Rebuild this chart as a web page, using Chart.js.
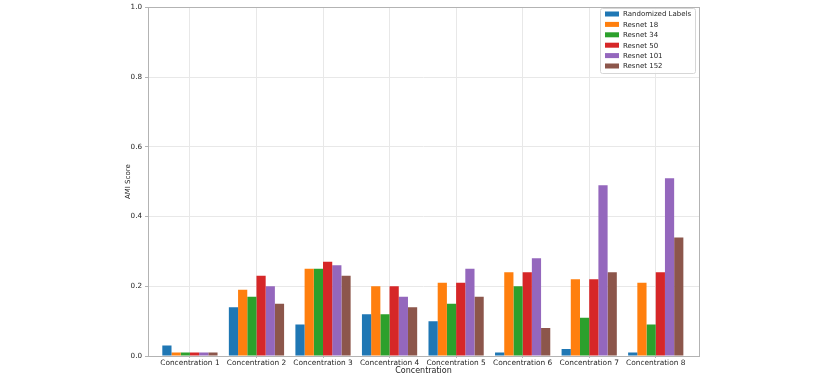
<!DOCTYPE html>
<html>
<head>
<meta charset="utf-8">
<script src="https://cdn.jsdelivr.net/npm/chart.js@4/dist/chart.umd.min.js"></script>
<style>
  html, body { margin: 0; padding: 0; background: #fff; }
  #wrap { width: 829px; height: 377px; }
</style>
</head>
<body>
<div id="wrap"><canvas id="amiChart" width="829" height="377"></canvas></div>
<script>
const categories = ["Concentration 1", "Concentration 2", "Concentration 3", "Concentration 4",
  "Concentration 5", "Concentration 6", "Concentration 7", "Concentration 8"];

const randomizedLabels = [0.03, 0.14, 0.09, 0.12, 0.10, 0.01, 0.02, 0.01];
const resnet18 = [0.01, 0.19, 0.25, 0.20, 0.21, 0.24, 0.22, 0.21];
const resnet34 = [0.01, 0.17, 0.25, 0.12, 0.15, 0.20, 0.11, 0.09];
const resnet50 = [0.01, 0.23, 0.27, 0.20, 0.21, 0.24, 0.22, 0.24];
const resnet101 = [0.01, 0.20, 0.26, 0.17, 0.25, 0.28, 0.49, 0.51];
const resnet152 = [0.01, 0.15, 0.23, 0.14, 0.17, 0.08, 0.24, 0.34];

const seriesNames = ["Randomized Labels", "Resnet 18", "Resnet 34", "Resnet 50", "Resnet 101", "Resnet 152"];
const seriesValues = [randomizedLabels, resnet18, resnet34, resnet50, resnet101, resnet152];
const seriesColors = ["#1f77b4", "#ff7f0e", "#2ca02c", "#d62728", "#9467bd", "#8c564b"];

const yTicks = [0, 0.2, 0.4, 0.6, 0.8, 1.0];

const font = "'DejaVu Sans', sans-serif";
const textColor = "#262626";

// legend drawn inside the plot, upper right, like matplotlib
const insideLegend = {
  id: "insideLegend",
  afterDraw(chart) {
    const ctx = chart.ctx;
    const x = 600, y = 8, w = 95, h = 65;
    ctx.save();
    ctx.fillStyle = "rgba(255,255,255,0.85)";
    ctx.strokeStyle = "#d6d6d6";
    ctx.lineWidth = 1;
    ctx.beginPath();
    ctx.roundRect(x + 0.5, y + 0.5, w, h, 2);
    ctx.fill();
    ctx.stroke();
    ctx.font = "7px " + font;
    ctx.textBaseline = "middle";
    ctx.textAlign = "left";
    chart.data.datasets.forEach((ds, i) => {
      const rowY = y + 6 + i * 10.4;
      ctx.fillStyle = ds.backgroundColor;
      ctx.fillRect(605, rowY - 2.5, 14, 5);
      ctx.fillStyle = textColor;
      ctx.fillText(ds.label, 623, rowY + 0.5);
    });
    ctx.restore();
  },
};

// axes frame on all four sides
const frame = {
  id: "frame",
  afterDatasetsDraw(chart) {
    const { ctx, chartArea: a } = chart;
    ctx.save();
    ctx.strokeStyle = "#b3b3b3";
    ctx.lineWidth = 1;
    ctx.strokeRect(Math.round(a.left) + 0.5, Math.round(a.top) + 0.5,
      Math.round(a.right - a.left), Math.round(a.bottom - a.top));
    ctx.restore();
  },
};

new Chart(document.getElementById("amiChart"), {
  type: "bar",
  data: {
    datasets: seriesNames.map((name, s) => ({
      label: name,
      data: seriesValues[s].map((v, i) => ({ x: i, y: v })),
      backgroundColor: seriesColors[s],
      borderWidth: 0,
      categoryPercentage: 0.83,
      barPercentage: 1.0,
    })),
  },
  options: {
    responsive: false,
    animation: false,
    layout: { padding: { left: 118, right: 130, top: 5, bottom: 0 } },
    plugins: {
      legend: { display: false },
      tooltip: { enabled: false },
    },
    scales: {
      x: {
        type: "linear",
        min: -0.63,
        max: 7.65,
        offset: false,
        afterBuildTicks: (axis) => {
          axis.ticks = categories.map((c, i) => ({ value: i }));
        },
        afterFit: (axis) => { axis.height = 21; },
        grid: { offset: false, color: "#e8e8e8", tickColor: "#b3b3b3", tickLength: 2 },
        border: { display: false },
        ticks: {
          padding: 1,
          maxRotation: 0,
          autoSkip: false,
          color: textColor,
          font: { family: font, size: 7.4 },
          callback: (v) => categories[v],
        },
        title: {
          display: true,
          text: "Concentration",
          color: textColor,
          font: { family: font, size: 8 },
          padding: { top: 0, bottom: 1 },
        },
      },
      y: {
        min: 0,
        max: 1,
        afterBuildTicks: (axis) => {
          axis.ticks = yTicks.map((v) => ({ value: v }));
        },
        afterFit: (axis) => { axis.width = 30; },
        grid: { color: "#e8e8e8", tickColor: "#b3b3b3", tickLength: 3 },
        border: { display: false },
        ticks: {
          padding: 3,
          color: textColor,
          font: { family: font, size: 7.2 },
          callback: (v) => v.toFixed(1),
        },
        title: {
          display: true,
          text: "AMI Score",
          color: textColor,
          font: { family: font, size: 7 },
          padding: { top: 6, bottom: 0 },
        },
      },
    },
  },
  plugins: [frame, insideLegend],
});
</script>
</body>
</html>
